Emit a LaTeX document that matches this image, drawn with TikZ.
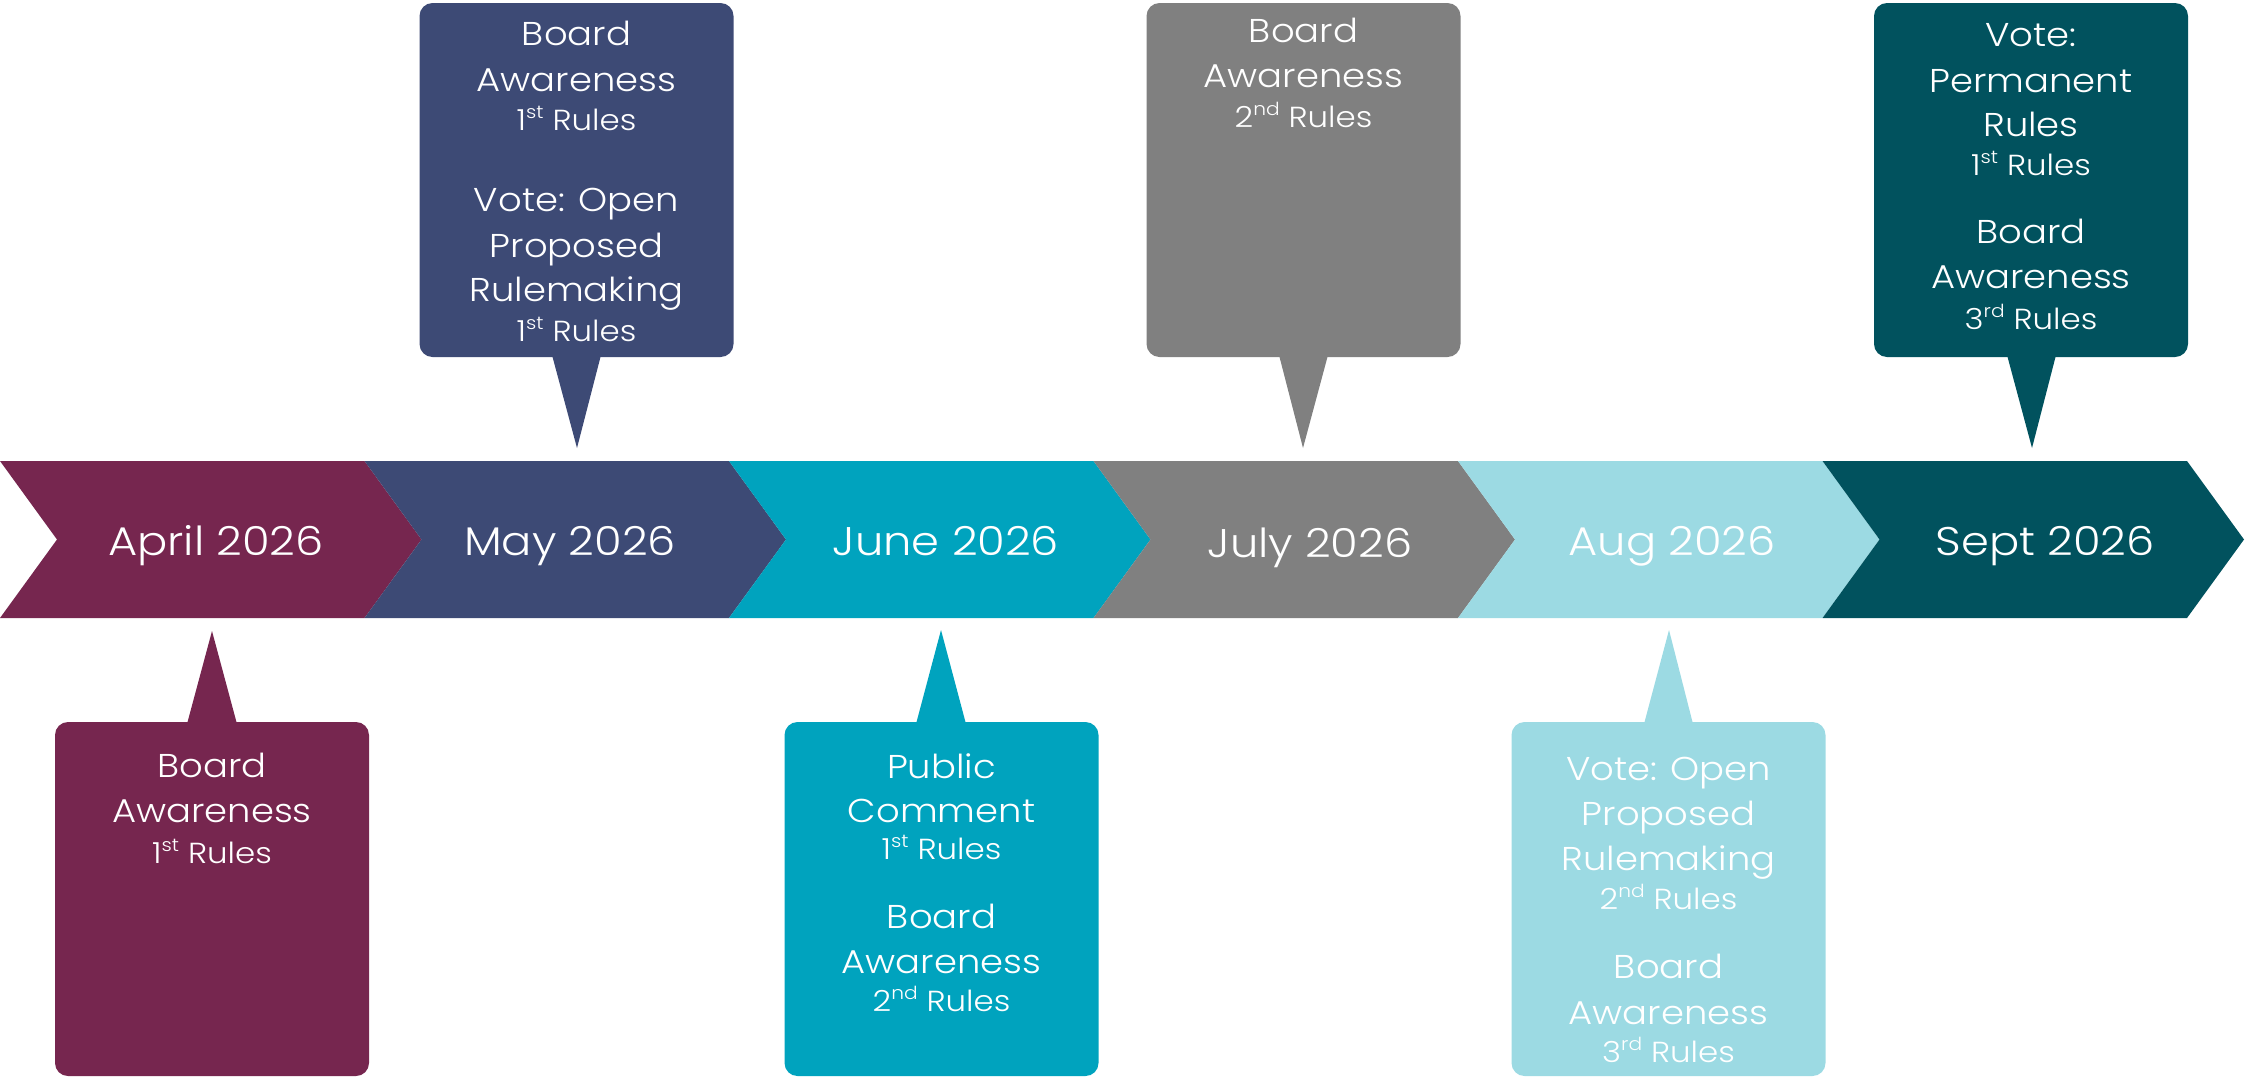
\documentclass[tikz,border=0pt]{standalone}
\usepackage{fontspec}
\setmainfont{Poppins Light}[FakeStretch=1.12]
\definecolor{cApr}{HTML}{76264F}
\definecolor{cMay}{HTML}{3D4A75}
\definecolor{cJun}{HTML}{00A3BE}
\definecolor{cJul}{HTML}{808080}
\definecolor{cAug}{HTML}{9CDAE3}
\definecolor{cSep}{HTML}{01525E}
\newcommand{\sups}[1]{\raisebox{0.38em}{\fontsize{18}{18}\selectfont #1}}
\tikzset{
  month/.style={text=white, inner sep=0pt, anchor=base, font=\fontsize{40}{50}\selectfont},
  txtb/.style={text=white, inner sep=0pt, anchor=base, font=\fontsize{33}{40}\selectfont},
  txts/.style={text=white, inner sep=0pt, anchor=base, font=\fontsize{29}{34}\selectfont},
  callout/.style={rectangle, rounded corners=13pt, inner sep=0pt, minimum width=314pt, minimum height=354pt},
}
\begin{document}
\begin{tikzpicture}[x=1pt, y=-1pt]
\useasboundingbox (0,0) rectangle (2245,1077);
% chevrons
\foreach \c [count=\i from 0] in {cApr,cMay,cJun,cJul,cAug,cSep}{
  \pgfmathsetmacro{\xa}{\i*364.5}
  \fill[\c] (\xa,461) -- (\xa+364.5,461) -- (\xa+421.5,539.5) -- (\xa+364.5,618) -- (\xa,618) -- (\xa+57,539.5) -- cycle;
}
\node[month] (mApr) at (216,555) {April 2026};
\node[month] (mMay) at (570,555) {May 2026};
\node[month] (mJun) at (946,555) {June 2026};
\node[month] (mJul) at (1310,557) {July 2026};
\node[month] (mAug) at (1672,555) {Aug 2026};
\node[month] (mSep) at (2045,555) {Sept 2026};
% top callouts
\node[callout, fill=cMay] (bMay) at (576.5,180) {};
\fill[cMay] (552,355) -- (577,448) -- (601,355) -- cycle;
\node[callout, fill=cJul] (bJul) at (1303.5,180) {};
\fill[cJul] (1279,355) -- (1303,448) -- (1328,355) -- cycle;
\node[callout, fill=cSep] (bSep) at (2031,180) {};
\fill[cSep] (2007,355) -- (2032,448) -- (2056,355) -- cycle;
% bottom callouts
\node[callout, fill=cApr] (bApr) at (212,899) {};
\fill[cApr] (187,724) -- (212,631) -- (237,724) -- cycle;
\node[callout, fill=cJun] (bJun) at (941.5,899) {};
\fill[cJun] (916,724) -- (941,630) -- (966,724) -- cycle;
\node[callout, fill=cAug] (bAug) at (1668.5,899) {};
\fill[cAug] (1644,724) -- (1669,630) -- (1693,724) -- cycle;
% callout texts
\foreach \s/\t/\y [count=\i] in {b/Board/45, b/Awareness/91, s/1\sups{st} Rules/130, b/Vote: Open/211, b/Proposed/257, b/Rulemaking/301, s/1\sups{st} Rules/341}
  \node[txt\s] (tMay\i) at (576.5,\y) {\t};
\foreach \s/\t/\y [count=\i] in {b/Board/42, b/Awareness/87, s/2\sups{nd} Rules/127}
  \node[txt\s] (tJul\i) at (1303.5,\y) {\t};
\foreach \s/\t/\y [count=\i] in {b/Vote:/46, b/Permanent/92, b/Rules/136, s/1\sups{st} Rules/175, b/Board/243, b/Awareness/288, s/3\sups{rd} Rules/329}
  \node[txt\s] (tSep\i) at (2031,\y) {\t};
\foreach \s/\t/\y [count=\i] in {b/Board/777, b/Awareness/822, s/1\sups{st} Rules/863}
  \node[txt\s] (tApr\i) at (212,\y) {\t};
\foreach \s/\t/\y [count=\i] in {b/Public/778, b/Comment/822, s/1\sups{st} Rules/859, b/Board/928, b/Awareness/973, s/2\sups{nd} Rules/1011}
  \node[txt\s] (tJun\i) at (941.5,\y) {\t};
\foreach \s/\t/\y [count=\i] in {b/Vote: Open/780, b/Proposed/825, b/Rulemaking/870, s/2\sups{nd} Rules/909, b/Board/978, b/Awareness/1024, s/3\sups{rd} Rules/1062}
  \node[txt\s] (tAug\i) at (1668.5,\y) {\t};
\end{tikzpicture}
\end{document}
